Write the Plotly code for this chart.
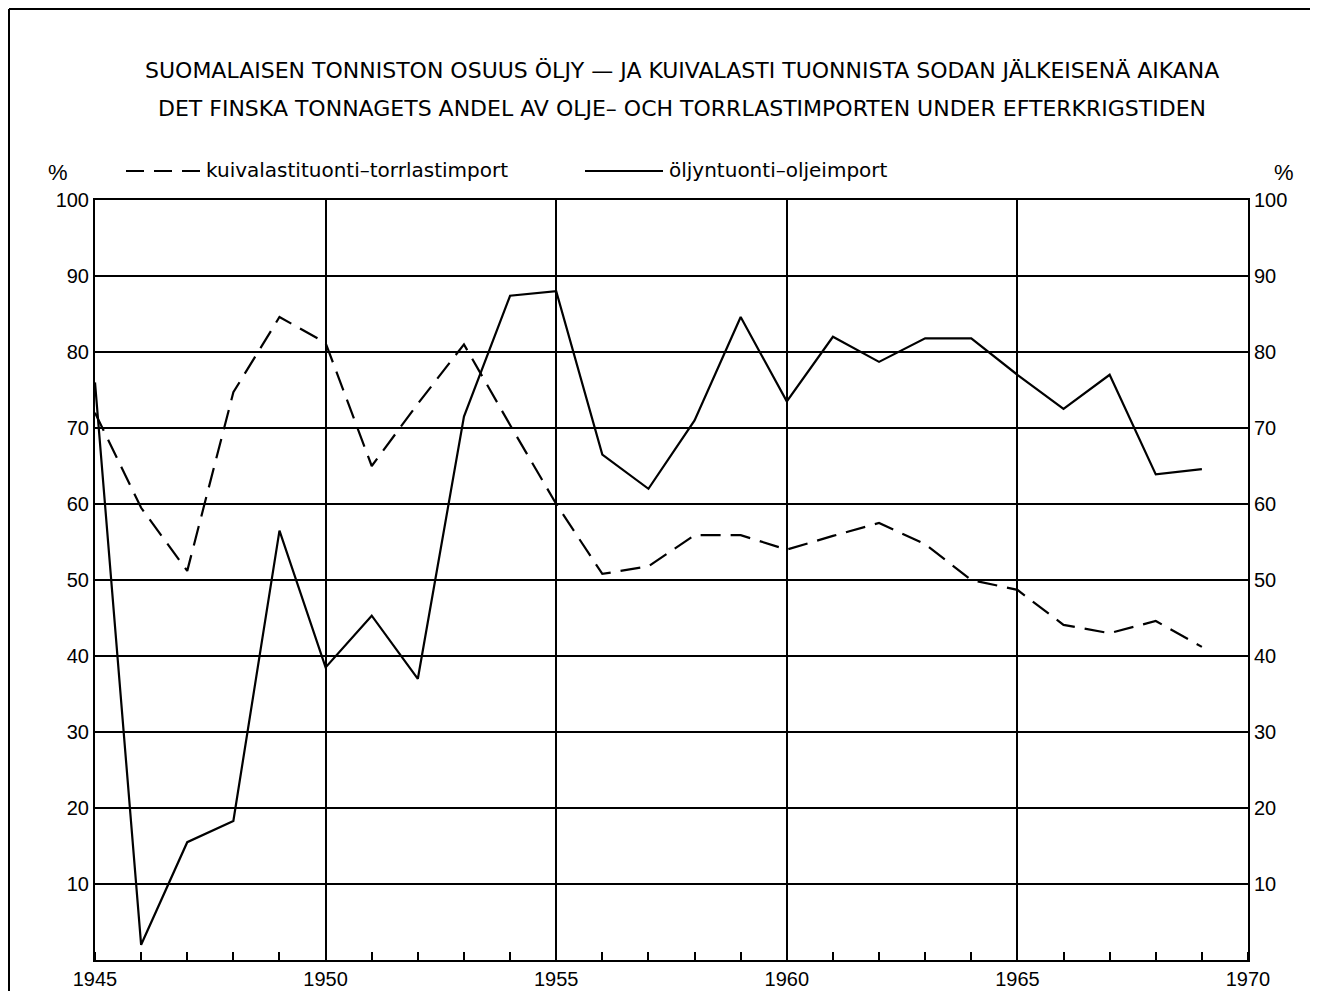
import plotly.graph_objects as go

years = list(range(1945, 1970))
oil = [76, 2, 15.5, 18.3, 56.5, 38.5, 45.3, 37, 71.5, 87.4, 88, 66.5, 62, 71,
       84.6, 73.5, 82, 78.7, 81.8, 81.8, 77, 72.5, 77, 63.9, 64.6]
dry = [72, 59.5, 51.2, 74.7, 84.6, 81.2, 65, 73.2, 81, 70.4, 60, 50.8, 51.8, 55.9,
       55.9, 54, 55.8, 57.5, 54.7, 50, 48.7, 44.1, 43, 44.6, 41.2]

title1 = "SUOMALAISEN TONNISTON OSUUS ÖLJY — JA KUIVALASTI TUONNISTA SODAN JÄLKEISENÄ AIKANA"
title2 = "DET FINSKA TONNAGETS ANDEL AV OLJE– OCH TORRLASTIMPORTEN UNDER EFTERKRIGSTIDEN"
legend_dry = "kuivalastituonti–torrlastimport"
legend_oil = "öljyntuonti–oljeimport"
xticks = [1945, 1950, 1955, 1960, 1965, 1970]
yticks = [10, 20, 30, 40, 50, 60, 70, 80, 90, 100]

FONT = "Liberation Sans"
WIDE = "DejaVu Sans"
fig = go.Figure()
fig.add_trace(go.Scatter(x=years, y=dry, mode="lines", name=legend_dry,
                         line=dict(color="black", width=2.2, dash="20px,10px")))
fig.add_trace(go.Scatter(x=years, y=oil, mode="lines", name=legend_oil,
                         line=dict(color="black", width=2.2), yaxis="y2"))

# page has an 8px body margin; work in reference coordinates shifted by OFF
OFF = 8
W, H = 1318 - 2 * OFF, 991 - OFF
L, Rx, T, Bx = 95 - OFF, 1248 - OFF, 200 - OFF, 960 - OFF
pw, ph = Rx - L, Bx - T
def px(x): return (x - OFF - L) / pw
def py(y): return (Bx - (y - OFF)) / ph

fig.update_layout(
    width=W, height=H, showlegend=False,
    margin=dict(l=L, r=W - Rx, t=T, b=H - Bx, pad=0, autoexpand=False),
    paper_bgcolor="white", plot_bgcolor="white",
    font=dict(family=FONT, color="black", size=20),
    xaxis=dict(range=[1945, 1970], tickvals=xticks, ticks="", showgrid=True,
               gridcolor="black", gridwidth=2, showline=True, linecolor="black",
               linewidth=2, mirror=True, zeroline=False, automargin=False,
               tickfont=dict(size=20),
               minor=dict(dtick=1, tick0=1945, ticks="inside", ticklen=8,
                          tickcolor="black", tickwidth=1.5, showgrid=False)),
    yaxis=dict(range=[0, 100], tickvals=yticks, ticks="", showgrid=True,
               gridcolor="black", gridwidth=2, showline=True, linecolor="black",
               linewidth=2, zeroline=False, automargin=False, tickfont=dict(size=20)),
    yaxis2=dict(range=[0, 100], tickvals=yticks, ticks="", showgrid=False,
                overlaying="y", side="right", showline=True, linecolor="black",
                linewidth=2, zeroline=False, automargin=False, tickfont=dict(size=20)),
)

for t, yy in ((title1, 70), (title2, 108)):
    fig.add_annotation(xref="paper", yref="paper", showarrow=False,
                       xanchor="center", yanchor="middle", x=px(682), y=py(yy),
                       text=t, font=dict(size=22, family=WIDE))
for xx in (58, 1284):
    fig.add_annotation(xref="paper", yref="paper", showarrow=False, x=px(xx), y=py(172),
                       text="%", font=dict(size=22, family=FONT),
                       xanchor="center", yanchor="middle")
fig.add_annotation(xref="paper", yref="paper", showarrow=False, x=px(204), y=py(170),
                   text=legend_dry, font=dict(size=20, family=WIDE),
                   xanchor="left", yanchor="middle")
fig.add_annotation(xref="paper", yref="paper", showarrow=False, x=px(667), y=py(170),
                   text=legend_oil, font=dict(size=20, family=WIDE),
                   xanchor="left", yanchor="middle")

fig.add_shape(type="line", xref="paper", yref="paper", x0=px(126), x1=px(203),
              y0=py(171), y1=py(171), line=dict(color="black", width=2, dash="18px,10px"))
fig.add_shape(type="line", xref="paper", yref="paper", x0=px(585), x1=px(663),
              y0=py(171), y1=py(171), line=dict(color="black", width=2))
# outer frame
fig.add_shape(type="line", xref="paper", yref="paper", x0=px(9), x1=px(9),
              y0=py(9), y1=py(991), line=dict(color="black", width=2))
fig.add_shape(type="line", xref="paper", yref="paper", x0=px(9), x1=px(1318),
              y0=py(9), y1=py(9), line=dict(color="black", width=2))

fig.write_html("out.html")
